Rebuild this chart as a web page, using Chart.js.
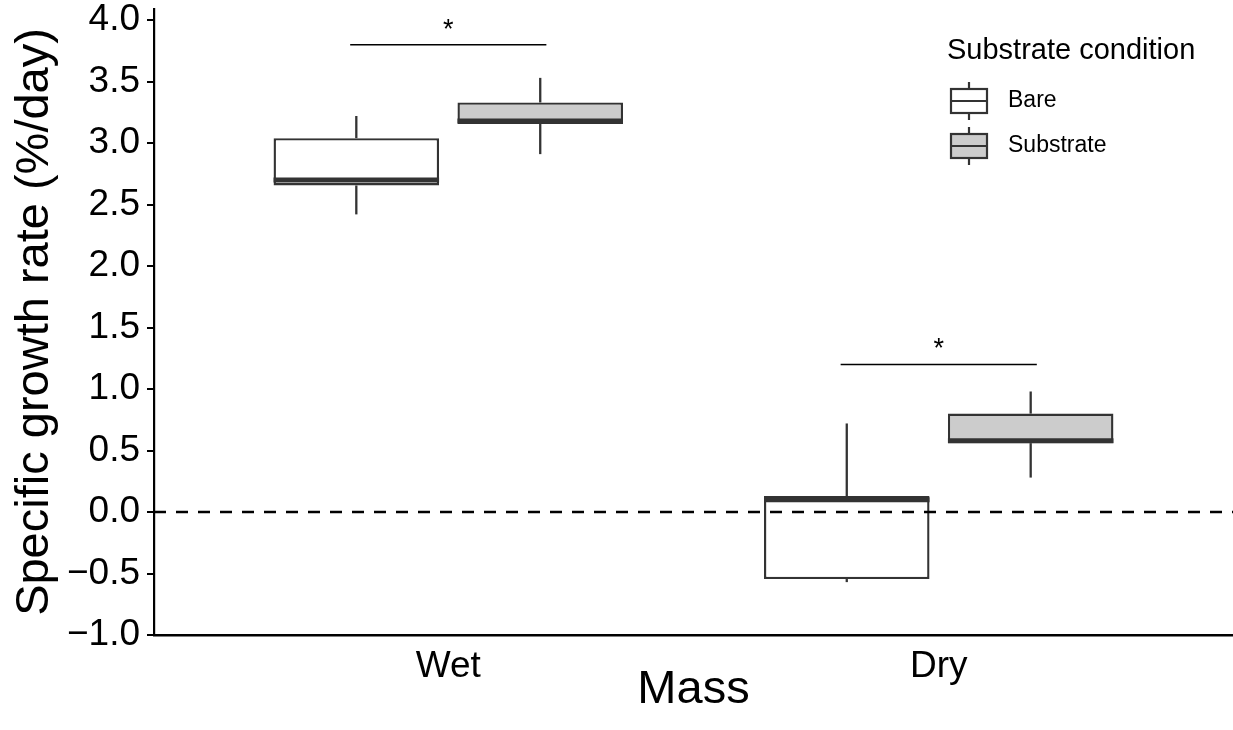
<!DOCTYPE html>
<html>
<head>
<meta charset="utf-8">
<title>Specific growth rate by mass</title>
<script src="https://cdn.jsdelivr.net/npm/chart.js@4.4.1/dist/chart.umd.min.js"></script>
<style>
  html, body { margin: 0; padding: 0; background: #fff; }
  #wrap { width: 1233px; height: 730px; }
</style>
</head>
<body>
<div id="wrap"><canvas id="chart" width="1233" height="730"></canvas></div>
<script>
const categories = ['Wet', 'Dry'];

// five-number summaries, one entry per mass type
const bareMin = [2.42, -0.57];
const bareQ1 = [2.655, -0.545];
const bareMedian = [2.70, 0.10];
const bareQ3 = [3.04, 0.13];
const bareMax = [3.22, 0.72];

const substrateMin = [2.91, 0.28];
const substrateQ1 = [3.155, 0.56];
const substrateMedian = [3.18, 0.58];
const substrateQ3 = [3.33, 0.80];
const substrateMax = [3.53, 0.98];

const yTicks = [-1.0, -0.5, 0.0, 0.5, 1.0, 1.5, 2.0, 2.5, 3.0, 3.5, 4.0];

// significance brackets above each mass type
const signifY = [3.8, 1.2];
const signifLabel = ['*', '*'];

const FONT = "'Liberation Sans', Arial, Helvetica, sans-serif";
const INK = '#333333';

const boxData = (q1, q3) => categories.map((c, i) => ({ x: i + 1, y: [q1[i], q3[i]] }));

const datasets = [
  {
    label: 'Bare',
    data: boxData(bareQ1, bareQ3),
    stats: { min: bareMin, median: bareMedian, max: bareMax },
    backgroundColor: '#ffffff'
  },
  {
    label: 'Substrate',
    data: boxData(substrateQ1, substrateQ3),
    stats: { min: substrateMin, median: substrateMedian, max: substrateMax },
    backgroundColor: '#cccccc'
  }
].map(ds => Object.assign(ds, {
  borderColor: INK,
  borderWidth: 2.4,
  borderSkipped: false,
  categoryPercentage: 0.75,
  barPercentage: 0.9
}));

const line = (ctx, x1, y1, x2, y2) => {
  ctx.beginPath();
  ctx.moveTo(x1, y1);
  ctx.lineTo(x2, y2);
  ctx.stroke();
};

// whiskers, medians, zero line, brackets and legend
const boxExtras = {
  id: 'boxExtras',
  afterDatasetsDraw(chart) {
    const { ctx, chartArea } = chart;
    const xs = chart.scales.x;
    const ys = chart.scales.y;
    ctx.save();
    ctx.lineCap = 'butt';

    chart.data.datasets.forEach((ds, di) => {
      const meta = chart.getDatasetMeta(di);
      meta.data.forEach((bar, i) => {
        const [q1, q3] = ds.data[i].y;
        const half = bar.width / 2;
        ctx.strokeStyle = INK;
        ctx.lineWidth = 2.3;
        line(ctx, bar.x, ys.getPixelForValue(q3), bar.x, ys.getPixelForValue(ds.stats.max[i]));
        line(ctx, bar.x, ys.getPixelForValue(q1), bar.x, ys.getPixelForValue(ds.stats.min[i]));
        ctx.lineWidth = 5;
        const my = ys.getPixelForValue(ds.stats.median[i]);
        line(ctx, bar.x - half, my, bar.x + half, my);
      });
    });

    // reference line at zero
    ctx.strokeStyle = '#000';
    ctx.lineWidth = 2.4;
    ctx.setLineDash([12, 10]);
    const zy = ys.getPixelForValue(0);
    line(ctx, chartArea.left, zy, chartArea.right, zy);
    ctx.setLineDash([]);

    // significance brackets
    ctx.lineWidth = 1.5;
    ctx.fillStyle = '#000';
    ctx.font = '27px ' + FONT;
    ctx.textAlign = 'center';
    ctx.textBaseline = 'alphabetic';
    categories.forEach((c, i) => {
      const x1 = xs.getPixelForValue(i + 1 - 0.2);
      const x2 = xs.getPixelForValue(i + 1 + 0.2);
      const y = ys.getPixelForValue(signifY[i]);
      line(ctx, x1, y, x2, y);
      ctx.fillText(signifLabel[i], (x1 + x2) / 2, y - 7);
    });

    // legend
    const lx = 947, ly = 51;
    ctx.textAlign = 'left';
    ctx.textBaseline = 'middle';
    ctx.font = '29px ' + FONT;
    ctx.fillText('Substrate condition', lx, ly);
    chart.data.datasets.forEach((ds, di) => {
      const cy = 101 + di * 45;
      const kx = 951, kw = 36, cx = kx + kw / 2;
      ctx.strokeStyle = INK;
      ctx.lineWidth = 2.2;
      line(ctx, cx, cy - 19, cx, cy + 19);
      ctx.fillStyle = ds.backgroundColor;
      ctx.fillRect(kx, cy - 12, kw, 24);
      ctx.strokeRect(kx, cy - 12, kw, 24);
      line(ctx, kx, cy, kx + kw, cy);
      ctx.fillStyle = '#000';
      ctx.font = '23px ' + FONT;
      ctx.fillText(ds.label, 1008, cy);
    });
    ctx.restore();
  }
};

Chart.defaults.font.family = FONT;

new Chart(document.getElementById('chart'), {
  type: 'bar',
  data: { datasets },
  plugins: [boxExtras],
  options: {
    responsive: false,
    animation: false,
    layout: { padding: { top: 9, right: 0, bottom: 0, left: 0 } },
    plugins: { legend: { display: false }, tooltip: { enabled: false } },
    scales: {
      x: {
        type: 'linear',
        min: 0.4,
        max: 2.6,
        offset: false,
        grid: { display: false, drawTicks: false, offset: false },
        border: { display: true, color: '#000', width: 2.4 },
        afterBuildTicks: s => { s.ticks = categories.map((c, i) => ({ value: i + 1 })); },
        ticks: {
          callback: v => categories[v - 1],
          color: '#000',
          font: { size: 37 },
          padding: 10,
          maxRotation: 0
        },
        title: { display: true, text: 'Mass', color: '#000', font: { size: 47 }, padding: { top: 0, bottom: 12 } },
        afterFit: s => {
          s.height = 95;
          s.paddingLeft = 0;
          s.paddingRight = 0;
        }
      },
      y: {
        min: -1,
        max: 4.09,
        afterBuildTicks: s => { s.ticks = yTicks.map(v => ({ value: v })); },
        grid: { drawOnChartArea: false, drawTicks: true, tickLength: 7, color: '#000', lineWidth: 2 },
        border: { display: true, color: '#000', width: 2.2 },
        ticks: {
          callback: v => v.toFixed(1).replace('-', '\u2212'),
          color: '#000',
          font: { size: 37 },
          padding: 7
        },
        title: {
          display: true,
          text: 'Specific growth rate (%/day)',
          color: '#000',
          font: { size: 47 },
          padding: { top: 7, bottom: 0 }
        },
        afterFit: s => {
          s.width = 154;
          s.paddingTop = 0;
          s.paddingBottom = 0;
        }
      }
    }
  }
});
</script>
</body>
</html>
